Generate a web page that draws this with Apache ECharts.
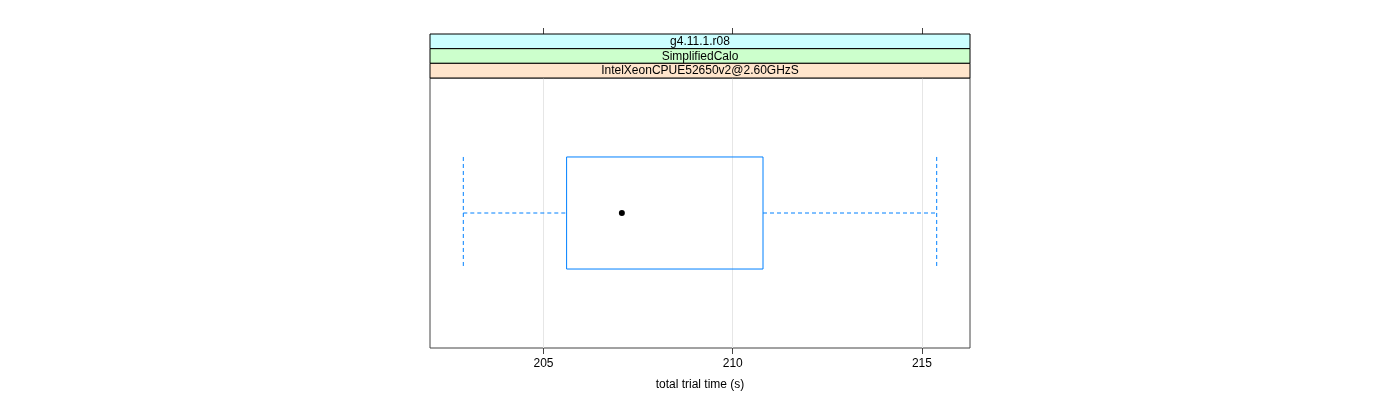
<!DOCTYPE html>
<html>
<head>
<meta charset="utf-8">
<script src="https://cdn.jsdelivr.net/npm/echarts@6/dist/echarts.min.js"></script>
<style>html,body{margin:0;padding:0;background:#fff}#c{width:1400px;height:400px}</style>
</head>
<body>
<div id="c"></div>
<script>
// ---- data ----
const categories = ['IntelXeonCPUE52650v2@2.60GHzS'];
// [lower whisker, Q1, median, Q3, upper whisker]
const boxStats = [[202.88, 205.61, 207.07, 210.80, 215.39]];
const xTicks = [205, 210, 215];
const stripLabels = ['g4.11.1.r08', 'SimplifiedCalo', 'IntelXeonCPUE52650v2@2.60GHzS'];
const stripColors = ['#ccffff', '#ccffcc', '#ffe5cc'];
const xMin = 202.0, xMax = 216.27;

// ---- layout ----
const gridLeft = 430, gridRight = 970, gridTop = 78, gridBottom = 348;
const stripTop = 34, stripH = 14.67;
const FONT = '"Liberation Sans", Arial, sans-serif';

const chart = echarts.init(document.getElementById('c'), null, {renderer: 'canvas'});

const graphics = [];
stripLabels.forEach((t, i) => {
  graphics.push({
    type: 'rect',
    shape: {x: gridLeft, y: stripTop + i * stripH, width: gridRight - gridLeft, height: stripH},
    style: {fill: stripColors[i], stroke: '#000', lineWidth: 1},
    z: 10
  });
  graphics.push({
    type: 'text',
    x: (gridLeft + gridRight) / 2,
    y: stripTop + (i + 0.5) * stripH + 0.5,
    style: {text: t, font: '12px ' + FONT, fill: '#000', textAlign: 'center', textVerticalAlign: 'middle'},
    z: 11
  });
});

const axisCommon = {
  type: 'value', min: xMin, max: xMax,
  axisLine: {show: false},
};

chart.setOption({
  animation: false,
  grid: {left: gridLeft, right: 1400 - gridRight, top: gridTop, bottom: 400 - gridBottom,
         show: true, borderColor: '#444', borderWidth: 1, backgroundColor: 'transparent'},
  xAxis: [
    Object.assign({}, axisCommon, {
      position: 'bottom',
      name: 'total trial time (s)', nameLocation: 'middle', nameGap: 31,
      nameTextStyle: {color: '#000', fontSize: 12, fontFamily: FONT},
      axisTick: {show: true, inside: false, length: 6, lineStyle: {color: '#444'}, customValues: xTicks},
      axisLabel: {show: true, color: '#000', fontSize: 12, fontFamily: FONT, margin: 10, customValues: xTicks},
      splitLine: {show: true, lineStyle: {color: '#e6e6e6', width: 1}}
    }),
    Object.assign({}, axisCommon, {
      position: 'top', offset: gridTop - stripTop,
      axisTick: {show: true, inside: false, length: 6, lineStyle: {color: '#444'}, customValues: xTicks},
      axisLabel: {show: false, customValues: xTicks},
      splitLine: {show: false}
    })
  ],
  yAxis: {type: 'category', data: categories, show: false},
  graphic: graphics,
  series: [{
    type: 'custom',
    xAxisIndex: 0,
    data: boxStats.map((s, i) => [i].concat(s)),
    encode: {x: [1, 2, 3, 4, 5], y: 0},
    renderItem: function (params, api) {
      const c = api.value(0);
      const lo = api.coord([api.value(1), c]);
      const q1 = api.coord([api.value(2), c]);
      const md = api.coord([api.value(3), c]);
      const q3 = api.coord([api.value(4), c]);
      const hi = api.coord([api.value(5), c]);
      const band = api.size([0, 1])[1];
      const h = band * 0.415;
      const y = md[1];
      const col = '#0080ff';
      const dash = {stroke: col, lineWidth: 1, lineDash: [4, 3], fill: null};
      return {
        type: 'group',
        children: [
          {type: 'line', shape: {x1: lo[0], y1: y, x2: q1[0], y2: y}, style: dash},
          {type: 'line', shape: {x1: q3[0], y1: y, x2: hi[0], y2: y}, style: dash},
          {type: 'line', shape: {x1: lo[0], y1: y - h / 2, x2: lo[0], y2: y + h / 2}, style: dash},
          {type: 'line', shape: {x1: hi[0], y1: y - h / 2, x2: hi[0], y2: y + h / 2}, style: dash},
          {type: 'rect', shape: {x: q1[0], y: y - h / 2, width: q3[0] - q1[0], height: h},
           style: {stroke: col, lineWidth: 1, fill: 'rgba(0,0,0,0)'}},
          {type: 'circle', shape: {cx: md[0], cy: y, r: 3}, style: {fill: '#000', stroke: null}}
        ]
      };
    }
  }]
});
</script>
</body>
</html>
